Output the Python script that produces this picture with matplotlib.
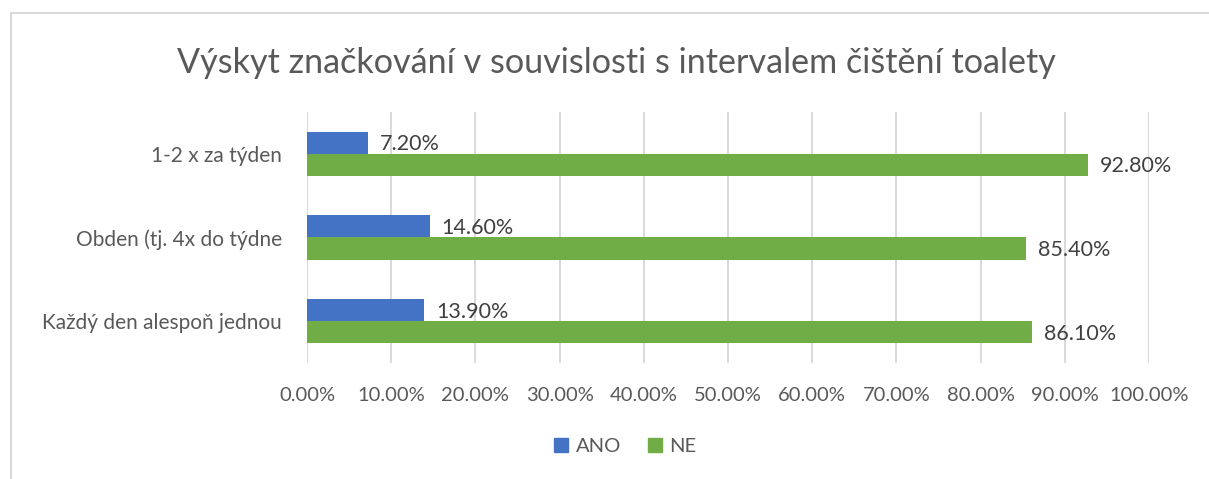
import matplotlib
matplotlib.use("Agg")
import matplotlib.pyplot as plt
from matplotlib.lines import Line2D
import numpy as np

plt.rcParams['font.family'] = ['Lato', 'DejaVu Sans']

# data (bottom -> top)
categories = ["Každý den alespoň jednou", "Obden (tj. 4x do týdne", "1-2 x za týden"]
ano = [13.9, 14.6, 7.2]
ne = [86.1, 85.4, 92.8]
ticks = [0, 10, 20, 30, 40, 50, 60, 70, 80, 90, 100]

text_col = "#595959"
blue = "#4472C4"
green = "#70AD47"

fig = plt.figure(figsize=(12.09, 4.79), dpi=100)
ax = fig.add_axes([307/1209, 116/479, 842/1209, 251/479])

y = np.arange(len(categories))
h = 0.263
b1 = ax.barh(y + h/2, ano, height=h, color=blue, label="ANO", zorder=3)
b2 = ax.barh(y - h/2, ne, height=h, color=green, label="NE", zorder=3)

for bars in (b1, b2):
    for r in bars:
        v = r.get_width()
        ax.annotate(f"{v:.2f}%", (v, r.get_y() + r.get_height()/2),
                    xytext=(8.5, -1), textcoords="offset points",
                    va="center", ha="left", fontsize=15.5, color="#404040")

ax.set_xlim(0, 100)
ax.set_ylim(-0.5, 2.5)
ax.set_xticks(ticks)
ax.set_xticklabels([f"{t:.2f}%" for t in ticks])
ax.set_yticks(y)
ax.set_yticklabels(categories)
ax.tick_params(axis="x", length=0, pad=17, labelsize=14.5, labelcolor=text_col)
ax.tick_params(axis="y", length=0, pad=18, labelsize=15, labelcolor=text_col)
ax.grid(axis="x", color="#D9D9D9", linewidth=1.4, zorder=0)
for s in ax.spines.values():
    s.set_visible(False)

fig.suptitle("Výskyt značkování v souvislosti s intervalem čištění toalety",
             x=0.51, y=0.902, fontsize=24.6, color=text_col)

handles = [Line2D([], [], marker="s", linestyle="none", markersize=10, color=blue),
           Line2D([], [], marker="s", linestyle="none", markersize=10, color=green)]
fig.legend(handles, ["ANO", "NE"], loc="center", bbox_to_anchor=(0.516, 0.067),
           ncol=2, frameon=False, fontsize=14.5, labelcolor=text_col,
           handletextpad=0.2, columnspacing=1.2, handlelength=1.0)

# chart border (only top and left edges visible in the crop)
fig.add_artist(Line2D([11/1209, 11/1209], [0, 1 - 13/479], color="#D9D9D9", linewidth=1.5))
fig.add_artist(Line2D([11/1209, 1], [1 - 13/479, 1 - 13/479], color="#D9D9D9", linewidth=1.5))

fig.savefig("out.png", dpi=100)
